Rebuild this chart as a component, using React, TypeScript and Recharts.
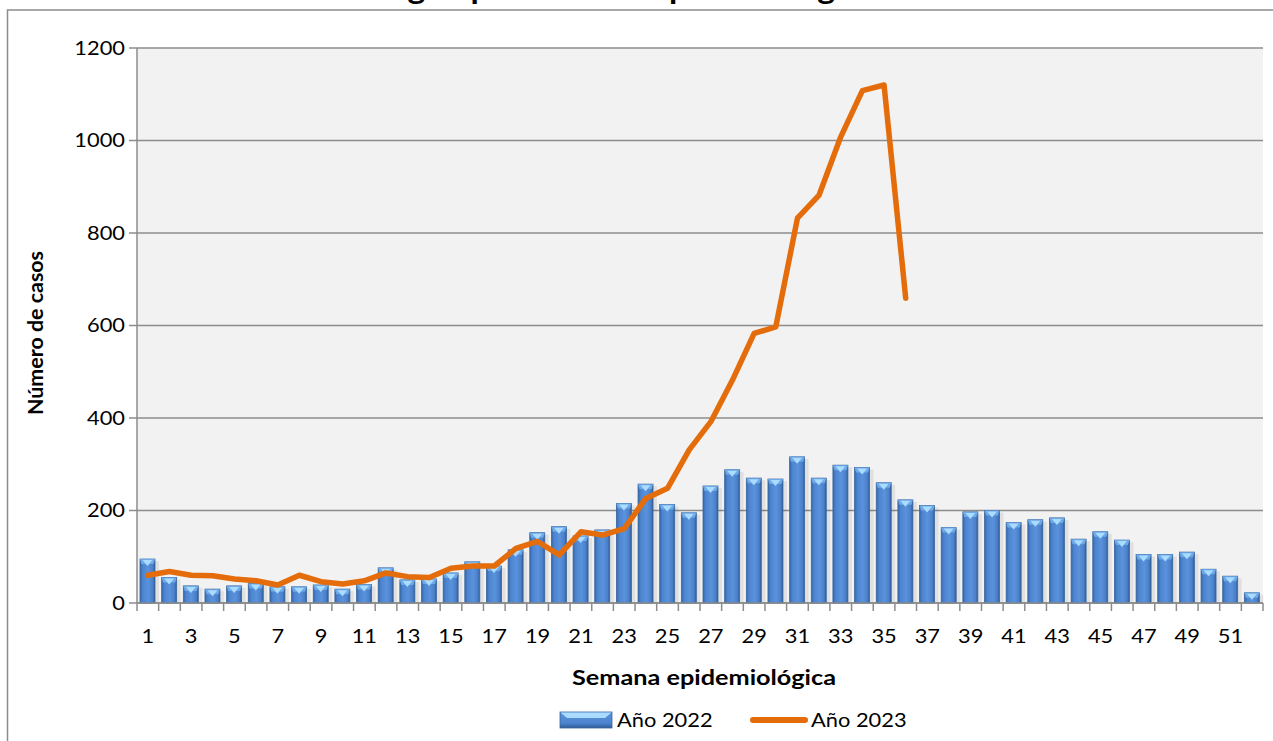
import React from 'react';
import { ComposedChart, Bar, Line, XAxis, YAxis, CartesianGrid } from 'recharts';

const weeks = Array.from({ length: 52 }, (_, i) => i + 1);
const cases2022 = [95, 55, 37, 30, 37, 42, 35, 35, 39, 30, 40, 76, 50, 52, 65, 89, 80, 115, 152, 165, 145, 158, 215, 257, 213, 195, 253, 288, 270, 268, 316, 270, 298, 293, 260, 223, 211, 163, 197, 200, 174, 180, 184, 138, 154, 136, 105, 105, 110, 73, 58, 22];
const cases2023 = [60, 68, 60, 59, 52, 48, 39, 60, 46, 41, 48, 65, 57, 55, 75, 80, 80, 118, 133, 104, 154, 147, 161, 226, 248, 331, 392, 482, 583, 597, 832, 882, 1008, 1108, 1120, 659];
const yTicks = [0, 200, 400, 600, 800, 1000, 1200];

const title = 'Casos de dengue por semana epidemiológica 2022 - 2023';
const xTitle = 'Semana epidemiológica';
const yTitle = 'Número de casos';
const legend2022 = 'Año 2022';
const legend2023 = 'Año 2023';

const data = weeks.map((w, i) => ({
  week: w,
  y2022: cases2022[i],
  y2023: i < cases2023.length ? cases2023[i] : null,
}));

const W = 1273;
const H = 741;
const MARGIN = { top: 48, right: 10, bottom: 98, left: 57 };
const Y_AXIS_W = 80;
const X_AXIS_H = 40;
const PLOT_W = W - MARGIN.left - Y_AXIS_W - MARGIN.right;
const BAND = PLOT_W / weeks.length;

const FONT = 'Lato, "Open Sans", sans-serif';
const AXIS_COLOR = '#8c8c8c';
const ORANGE = '#e46c0a';
const SX = 1.15;
const TICK_FS = 19;

const BarShape = (props: any) => {
  const { x, y, width, height } = props;
  if (height == null || height <= 0) return null;
  const w = width;
  const cap = Math.min(5, height);
  return (
    <g>
      <rect x={x + w} y={y + 2} width={4} height={height - 2} fill="rgba(0,0,0,0.07)" />
      <rect x={x} y={y} width={w} height={height} fill="url(#barBody)" stroke="#3a679f" strokeWidth={0.8} />
      <polygon
        points={`${x},${y} ${x + w},${y} ${x + w - 1.5},${y + cap} ${x + 1.5},${y + cap}`}
        fill="#6ea9e8"
      />
      <polygon
        points={`${x + 2.5},${y + 1} ${x + w - 2.5},${y + 1} ${x + w / 2},${y + Math.min(7, height)}`}
        fill="#a9dcff"
      />
    </g>
  );
};

const XTick = (props: any) => {
  const { x, y, payload, index } = props;
  const v = payload.value;
  const half = BAND / 2;
  const isLast = index === weeks.length - 1;
  return (
    <g>
      <line x1={x - half} x2={x - half} y1={y} y2={y + 8} stroke={AXIS_COLOR} strokeWidth={1.5} />
      {isLast && <line x1={x + half} x2={x + half} y1={y} y2={y + 8} stroke={AXIS_COLOR} strokeWidth={1.5} />}
      {v % 2 === 1 && (
        <g transform={`translate(${x},${y + 40})`}>
          <text transform={`scale(${SX},1)`} textAnchor="middle" fontFamily={FONT} fontSize={TICK_FS} fill="#000">
            {v}
          </text>
        </g>
      )}
    </g>
  );
};

const YTick = (props: any) => {
  const { x, y, payload } = props;
  return (
    <g transform={`translate(${x},${y})`}>
      <text transform={`scale(${SX},1)`} textAnchor="end" dy="0.36em" fontFamily={FONT} fontSize={TICK_FS} fill="#000">
        {payload.value}
      </text>
    </g>
  );
};

export default function App() {
  return (
    <div style={{ position: 'absolute', left: 0, top: 0, width: W, height: H, background: '#fff', overflow: 'hidden' }}>
      <svg width={W} height={H} style={{ position: 'absolute', left: 0, top: 0 }}>
        <rect x={7.5} y={10} width={W + 10} height={H + 10} fill="none" stroke={AXIS_COLOR} strokeWidth={1.5} />
      </svg>
      <div style={{ position: 'absolute', left: 0, top: 0 }}>
        <ComposedChart width={W} height={H} data={data} margin={MARGIN}>
          <defs>
            <linearGradient id="barBody" x1="0" y1="0" x2="1" y2="0">
              <stop offset="0%" stopColor="#3566a8" />
              <stop offset="18%" stopColor="#4d84cf" />
              <stop offset="55%" stopColor="#5a92dc" />
              <stop offset="85%" stopColor="#4a80c9" />
              <stop offset="100%" stopColor="#2f5b96" />
            </linearGradient>
          </defs>
          <CartesianGrid vertical={false} stroke={AXIS_COLOR} strokeWidth={1.5} fill="#f2f2f2" />
          <XAxis
            dataKey="week"
            type="category"
            interval={0}
            height={X_AXIS_H}
            tickLine={false}
            tickSize={0}
            tickMargin={0}
            axisLine={{ stroke: AXIS_COLOR, strokeWidth: 1.5 }}
            tick={<XTick />}
          />
          <YAxis
            width={Y_AXIS_W}
            domain={[0, 1200]}
            ticks={yTicks}
            interval={0}
            tickSize={8}
            tickMargin={4}
            axisLine={{ stroke: AXIS_COLOR, strokeWidth: 1.5 }}
            tickLine={{ stroke: AXIS_COLOR, strokeWidth: 1.5 }}
            tick={<YTick />}
          />
          <Bar dataKey="y2022" barSize={15} shape={<BarShape />} isAnimationActive={false} />
          <Line
            dataKey="y2023"
            type="linear"
            stroke={ORANGE}
            strokeWidth={5.5}
            strokeLinejoin="round"
            strokeLinecap="round"
            dot={false}
            activeDot={false}
            connectNulls={false}
            isAnimationActive={false}
          />
        </ComposedChart>
      </div>
      <svg width={W} height={H} style={{ position: 'absolute', left: 0, top: 0, pointerEvents: 'none' }}>
        <defs>
          <linearGradient id="legBody" x1="0" y1="0" x2="0" y2="1">
            <stop offset="0%" stopColor="#5a92dc" />
            <stop offset="70%" stopColor="#4d84cf" />
            <stop offset="100%" stopColor="#2f5b96" />
          </linearGradient>
        </defs>
        <text x={640} y={-1} textAnchor="middle" fontFamily={FONT} fontWeight="bold" fontSize={30} textLength={860} lengthAdjust="spacingAndGlyphs" fill="#000">
          {title}
        </text>
        <text x={704} y={685} textAnchor="middle" fontFamily={FONT} fontWeight="bold" fontSize={21} textLength={264} lengthAdjust="spacingAndGlyphs" fill="#000">
          {xTitle}
        </text>
        <text transform="translate(43,333) rotate(-90)" x={0} y={0} textAnchor="middle" fontFamily={FONT} fontWeight="bold" fontSize={20} textLength={164} lengthAdjust="spacingAndGlyphs" fill="#000">
          {yTitle}
        </text>
        <g>
          <rect x={560} y={712} width={52} height={16} fill="url(#legBody)" stroke="#3a679f" strokeWidth={0.8} />
          <polygon points="560.5,712.5 611.5,712.5 605,718 567,718" fill="#a9dcff" />
          <g transform="translate(617,727)">
            <text transform={`scale(${SX},1)`} fontFamily={FONT} fontSize={TICK_FS} fill="#000">{legend2022}</text>
          </g>
          <line x1={753} x2={805} y1={720} y2={720} stroke={ORANGE} strokeWidth={6} strokeLinecap="round" />
          <g transform="translate(811,727)">
            <text transform={`scale(${SX},1)`} fontFamily={FONT} fontSize={TICK_FS} fill="#000">{legend2023}</text>
          </g>
        </g>
      </svg>
    </div>
  );
}
